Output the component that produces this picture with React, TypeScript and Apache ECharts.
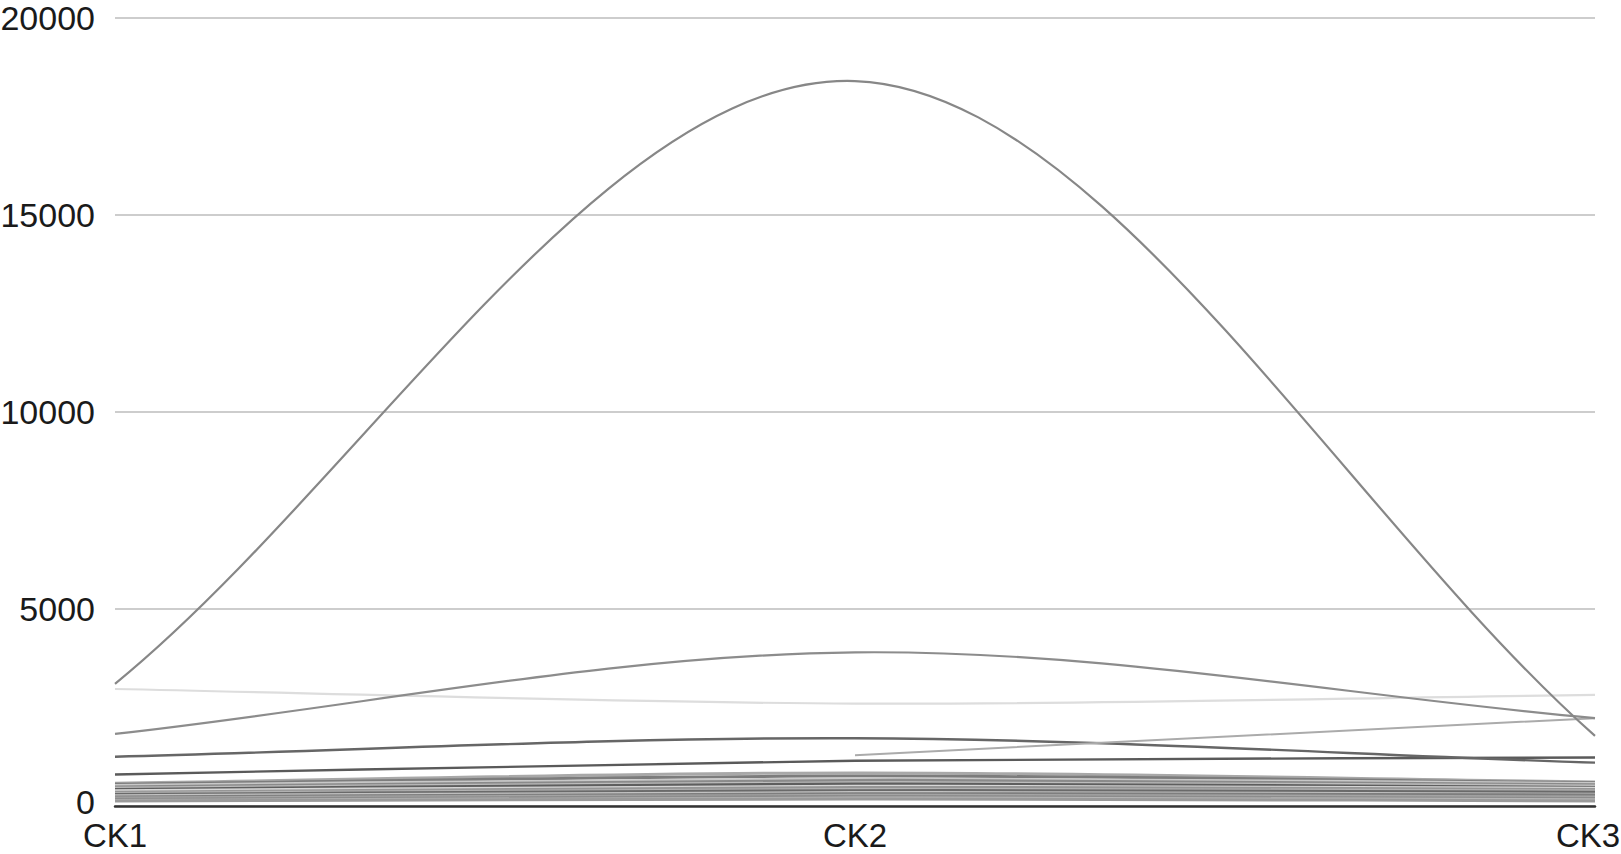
import React, { useEffect, useRef } from "react";
import * as echarts from "echarts";

const categories = ["CK1", "CK2", "CK3"];
const yTicks = [0, 5000, 10000, 15000, 20000];

const bigCurve = [3100, 18400, 1780];
const secondCurve = [1830, 3900, 2230];
const lightCurve = [2970, 2600, 2820];
const risingLine = [null, 1290, 2230];
const seriesA = [1250, 1720, 1100];
const seriesB = [800, 1150, 1230];
const band1 = [580, 840, 610];
const band2 = [550, 760, 590];
const band3 = [520, 690, 570];
const band4 = [480, 650, 540];
const band5 = [450, 590, 510];
const band6 = [420, 560, 470];
const band7 = [390, 500, 450];
const band8 = [350, 470, 420];
const band9 = [320, 420, 380];
const band10 = [290, 390, 350];
const band11 = [260, 340, 300];
const band12 = [230, 310, 280];
const band13 = [200, 270, 230];
const band14 = [170, 240, 190];
const band15 = [140, 200, 160];
const band16 = [125, 180, 130];

const lineSets = [
  { name: "band1", data: band1, color: "#a8a8a8", width: 3 },
  { name: "band2", data: band2, color: "#7c7c7c", width: 3 },
  { name: "band3", data: band3, color: "#c8c8c8", width: 3 },
  { name: "band4", data: band4, color: "#8a8a8a", width: 3 },
  { name: "band5", data: band5, color: "#bcbcbc", width: 3 },
  { name: "band6", data: band6, color: "#5e5e5e", width: 3 },
  { name: "band7", data: band7, color: "#d6d6d6", width: 3 },
  { name: "band8", data: band8, color: "#969696", width: 3 },
  { name: "band9", data: band9, color: "#b2b2b2", width: 3 },
  { name: "band10", data: band10, color: "#6a6a6a", width: 3 },
  { name: "band11", data: band11, color: "#c2c2c2", width: 3 },
  { name: "band12", data: band12, color: "#7e7e7e", width: 3 },
  { name: "band13", data: band13, color: "#a4a4a4", width: 3 },
  { name: "band14", data: band14, color: "#8c8c8c", width: 3 },
  { name: "band15", data: band15, color: "#b6b6b6", width: 3 },
  { name: "band16", data: band16, color: "#9a9a9a", width: 3 },
  { name: "seriesB", data: seriesB, color: "#5a5a5a", width: 2.4 },
  { name: "seriesA", data: seriesA, color: "#666666", width: 2.4 },
  { name: "risingLine", data: risingLine, color: "#ababab", width: 2 },
  { name: "lightCurve", data: lightCurve, color: "#dddddd", width: 2.2 },
  { name: "secondCurve", data: secondCurve, color: "#8c8c8c", width: 2.2 },
  { name: "bigCurve", data: bigCurve, color: "#878787", width: 2.2 },
];

function makeRenderItem(values: (number | null)[], color: string, width: number) {
  return (params: any, api: any) => {
    const i = params.dataIndex;
    const n = values.length;
    if (i >= n - 1 || values[i] == null || values[i + 1] == null) return null;
    const pt = (j: number) => (values[j] == null ? null : api.coord([j, values[j] as number]));
    const p0 = pt(i);
    const p1 = pt(i + 1);
    const pPrev = i > 0 ? pt(i - 1) : null;
    const pNext = i + 2 < n ? pt(i + 2) : null;
    const t0 = pPrev ? [(p1[0] - pPrev[0]) / 2, (p1[1] - pPrev[1]) / 2] : [p1[0] - p0[0], p1[1] - p0[1]];
    const t1 = pNext ? [(pNext[0] - p0[0]) / 2, (pNext[1] - p0[1]) / 2] : [p1[0] - p0[0], p1[1] - p0[1]];
    return {
      type: "bezierCurve",
      shape: {
        x1: p0[0],
        y1: p0[1],
        cpx1: p0[0] + t0[0] / 3,
        cpy1: p0[1] + t0[1] / 3,
        cpx2: p1[0] - t1[0] / 3,
        cpy2: p1[1] - t1[1] / 3,
        x2: p1[0],
        y2: p1[1],
      },
      style: { stroke: color, lineWidth: width, fill: null },
    };
  };
}

export default function App() {
  const ref = useRef<HTMLDivElement>(null);
  useEffect(() => {
    if (!ref.current) return;
    const chart = echarts.init(ref.current, null, { renderer: "svg" });
    const font = "'Liberation Sans', Arial, Helvetica, sans-serif";
    chart.setOption({
      animation: false,
      backgroundColor: "#ffffff",
      grid: {
        left: 115,
        right: 26,
        top: 18,
        bottom: 48,
        containLabel: false,
        outerBoundsMode: "none",
      },
      xAxis: {
        type: "category",
        data: categories,
        boundaryGap: false,
        axisLine: { show: true, lineStyle: { color: "#333333", width: 2.5 } },
        axisTick: { show: false },
        splitLine: { show: false },
        axisLabel: {
          color: "#1a1a1a",
          fontSize: 33,
          fontFamily: font,
          margin: 13,
          formatter: (v: string) => (v === categories[categories.length - 1] ? "{r|" + v + "}" : v),
          rich: {
            r: { fontSize: 33, fontFamily: font, color: "#1a1a1a", padding: [0, 14, 0, 0] },
          },
        },
      },
      yAxis: {
        type: "value",
        min: yTicks[0],
        max: yTicks[yTicks.length - 1],
        interval: 5000,
        axisLine: { show: false },
        axisTick: { show: false },
        splitLine: { show: true, lineStyle: { color: "#bdbdbd", width: 1.5 } },
        axisLabel: {
          color: "#1a1a1a",
          fontSize: 34,
          fontFamily: font,
          margin: 20,
          formatter: (v: number) => (v === yTicks[0] ? "{z|" + v + "}" : String(v)),
          rich: {
            z: { fontSize: 34, fontFamily: font, color: "#1a1a1a", padding: [0, 0, 8, 0] },
          },
        },
      },
      series: lineSets.map((s, k) => ({
        name: s.name,
        type: "custom",
        data: s.data.map((v, i) => [i, v == null ? 0 : v]),
        encode: { x: 0, y: 1 },
        renderItem: makeRenderItem(s.data, s.color, s.width),
        clip: false,
        silent: true,
        z: 2 + k * 0.01,
      })),
    });
    return () => chart.dispose();
  }, []);
  return <div ref={ref} style={{ width: 1621, height: 854, position: "absolute", left: 0, top: 0 }} />;
}
